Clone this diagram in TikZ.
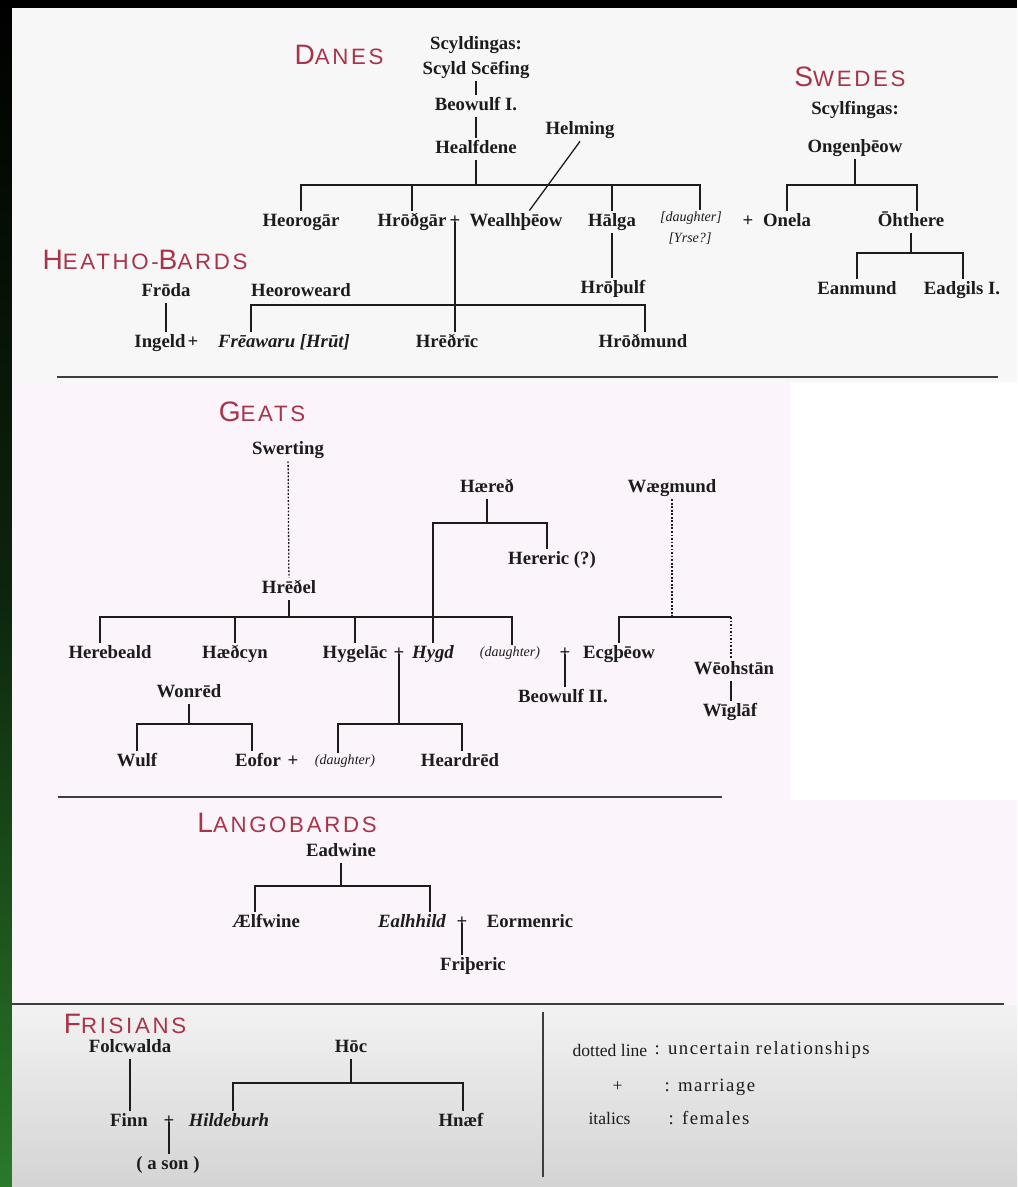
\documentclass[tikz,border=0pt]{standalone}
\usepackage{fontspec}
\usepackage{xcolor}
\usetikzlibrary{backgrounds}
\setmainfont{Liberation Serif}
\newfontfamily\tribefont[LetterSpace=12]{Liberation Sans}
\newfontfamily\keyfont[LetterSpace=8]{Liberation Serif}
\definecolor{tribered}{HTML}{A8344A}
\definecolor{paper}{HTML}{F8F7F8}
\definecolor{blush}{HTML}{FCF4FB}
\definecolor{leaf}{HTML}{2A7A2A}
\definecolor{ink}{HTML}{1C1C1C}
\newcommand{\tribe}[2]{{\fontsize{24}{24}\selectfont #1}{\fontsize{19}{19}\selectfont #2}}

\begin{document}
\begin{tikzpicture}[x=0.03cm, y=-0.03cm,
  every node/.style={text=ink, inner sep=2pt},
  tribe/.style={font=\tribefont, text=tribered},
  person/.style={font=\fontsize{16}{18}\selectfont\bfseries, text height=11pt, text depth=4pt},
  fem/.style={person, font=\fontsize{16}{18}\selectfont\bfseries\itshape},
  aside/.style={font=\fontsize{12}{14}\selectfont\itshape, text height=8pt, text depth=3pt},
  keytext/.style={font=\fontsize{15}{17}\selectfont, anchor=west},
  keyval/.style={font=\keyfont\fontsize{16}{18}\selectfont, anchor=west},
  kin/.style={draw=ink, line width=1.1pt},
  guess/.style={kin, dash pattern=on 1.6pt off 1.4pt},
  hrule/.style={draw=ink!85, line width=1.6pt}]
\useasboundingbox (0,0) rectangle (1017,1187);
\begin{scope}[on background layer]
  \fill[black] (0,0) rectangle (1017,8);
  \shade[top color=black, bottom color=leaf, middle color=black!70!leaf] (0,0) rectangle (12,1187);
  \fill[paper] (12,8) rectangle (1017,1187);
  \fill[blush] (12,382) rectangle (1017,1002);
  \fill[white] (790,382) rectangle (1017,800);
  \shade[top color=black!5, bottom color=black!17] (12,1005) rectangle (1017,1187);
\end{scope}

\node[tribe] (danes) at (339,55) {\tribe{D}{ANES}};
\node[person] (scyldingas) at (476,45) {Scyldingas:};
\node[person] (scyld) at (476,70) {Scyld Scēfing};
\node[person] (beowA) at (476,106) {Beowulf I.};
\node[person] (healfdene) at (476,149) {Healfdene};
\node[person] (helming) at (580,130) {Helming};
\node[person] (heorogar) at (301,222) {Heorogār};
\node[person] (hrothgar) at (412,222) {Hrōðgār};
\node[person] (daneplus) at (455,222) {+};
\node[person] (wealh) at (516,222) {Wealhþēow};
\node[person] (halga) at (612,222) {Hālga};
\node[aside] (danedaughter) at (691,219) {[daughter]};
\node[aside] (yrse) at (690,240) {[Yrse?]};
\node[person] (oneplus) at (748,222) {+};
\node[person] (onela) at (787,222) {Onela};

\node[tribe] (swedes) at (850,77) {\tribe{S}{WEDES}};
\node[person] (scylfingas) at (855,110) {Scylfingas:};
\node[person] (ongen) at (855,148) {Ongenþēow};
\node[person] (ohthere) at (911,222) {Ōhthere};
\node[person] (eanmund) at (857,290) {Eanmund};
\node[person] (eadgils) at (962,290) {Eadgils I.};

\node[tribe] (heatho) at (145,260) {\tribe{H}{EATHO-}\tribe{B}{ARDS}};
\node[person] (froda) at (166,292) {Frōda};
\node[person] (heoroweard) at (301,292) {Heoroweard};
\node[person] (ingeld) at (160,343) {Ingeld};
\node[person] (ingplus) at (193,343) {+};
\node[fem] (freawaru) at (284,343) {Frēawaru [Hrūt]};
\node[person] (hrethric) at (447,343) {Hrēðrīc};
\node[person, fill=paper] (hrothulf) at (613,289) {Hrōþulf};
\node[person] (hrothmund) at (643,343) {Hrōðmund};

\node[tribe] (geats) at (262,412) {\tribe{G}{EATS}};
\node[person] (swerting) at (288,450) {Swerting};
\node[person] (hrethel) at (289,589) {Hrēðel};
\node[person] (haereth) at (487,488) {Hæreð};
\node[person] (hereric) at (552,560) {Hereric (?)};
\node[person] (waegmund) at (672,488) {Wægmund};
\node[person] (herebeald) at (110,654) {Herebeald};
\node[person] (haethcyn) at (235,654) {Hæðcyn};
\node[person] (hygelac) at (355,654) {Hygelāc};
\node[person] (hygplus) at (399,654) {+};
\node[fem] (hygd) at (433,654) {Hygd};
\node[aside] (geatdaughter) at (510,654) {(daughter)};
\node[person] (ecgplus) at (565,654) {+};
\node[person] (ecgtheow) at (619,654) {Ecgþēow};
\node[person] (beowB) at (563,698) {Beowulf II.};
\node[person] (weohstan) at (734,670) {Wēohstān};
\node[person] (wiglaf) at (730,712) {Wīglāf};
\node[person] (wonred) at (189,693) {Wonrēd};
\node[person] (wulf) at (137,762) {Wulf};
\node[person] (eofor) at (258,762) {Eofor};
\node[person] (eofplus) at (293,762) {+};
\node[aside] (eofdaughter) at (345,762) {(daughter)};
\node[person] (heardred) at (460,762) {Heardrēd};

\node[tribe] (lango) at (287,823) {\tribe{L}{ANGOBARDS}};
\node[person] (eadwine) at (341,852) {Eadwine};
\node[person] (aelfwine) at (266,923) {Ælfwine};
\node[fem] (ealhhild) at (412,923) {Ealhhild};
\node[person] (ealhplus) at (462,923) {+};
\node[person] (eormenric) at (530,923) {Eormenric};
\node[person] (fritheric) at (473,966) {Friþeric};

\node[tribe] (frisians) at (125,1024) {\tribe{F}{RISIANS}};
\node[person] (folcwalda) at (130,1048) {Folcwalda};
\node[person] (hoc) at (351,1048) {Hōc};
\node[person] (finn) at (129,1122) {Finn};
\node[person] (finnplus) at (169,1122) {+};
\node[fem] (hildeburh) at (229,1122) {Hildeburh};
\node[person] (hnaef) at (461,1122) {Hnæf};
\node[person] (ason) at (168,1165) {( a son )};

\node[keytext] (dottedkey) at (570,1050) {dotted line};
\node[keyval] (dottedval) at (652,1050) {: uncertain relationships};
\node[keytext] (marrkey) at (610,1087) {+};
\node[keyval] (marrval) at (662,1087) {: marriage};
\node[keytext] (femkey) at (586,1118) {italics};
\node[keyval] (femval) at (666,1118) {: females};

\begin{scope}[on background layer]
  \coordinate (danebar) at (700,185);
  \draw[kin] (scyld) -- (beowA);
  \draw[kin] (beowA) -- (healfdene);
  \draw[kin] (healfdene) -- (healfdene |- danebar);
  \draw[kin] (heorogar) |- (danebar) -- (danebar |- danedaughter.north);
  \foreach \n in {hrothgar,halga} \draw[kin] (\n) -- (\n |- danebar);
  \draw[kin] (halga) -- (halga |- hrothulf.north);
  \draw[kin] (helming.south) -- ([xshift=0.4cm]wealh.north);
  \draw[kin] (daneplus.center) -- (daneplus |- hrethric.north);
  \coordinate (freabar) at (251,305);
  \coordinate (mundbar) at (645,305);
  \draw[kin] (freabar |- freawaru.north) -- (freabar) -- (mundbar) -- (mundbar |- hrothmund.north);
  \draw[kin] (froda) -- (froda |- ingeld.north);

  \coordinate (swedebar) at (917,185);
  \draw[kin] (ongen) -- (ongen |- swedebar);
  \draw[kin] (onela) |- (swedebar) -- (swedebar |- ohthere.north);
  \coordinate (ohtbar) at (963,253);
  \draw[kin] (ohthere) -- (ohthere |- ohtbar);
  \draw[kin] (eanmund) |- (ohtbar) -- (ohtbar |- eadgils.north);

  \draw[guess] (swerting) -- (hrethel);
  \coordinate (hrethelL) at (100,617);
  \coordinate (hrethelbar) at (512,617);
  \draw[kin] (hrethel) -- (hrethel |- hrethelbar);
  \draw[kin] (hrethelL |- herebeald.north) -- (hrethelL) -- (hrethelbar) -- (hrethelbar |- geatdaughter.north);
  \foreach \n in {haethcyn,hygelac} \draw[kin] (\n) -- (\n |- hrethelbar);
  \coordinate (haerethbar) at (547,523);
  \draw[kin] (haereth) -- (haereth |- haerethbar);
  \draw[kin] (hygd) |- (haerethbar) -- (haerethbar |- hereric.north);
  \draw[kin] (ecgplus.center) -- (ecgplus |- beowB.north);
  \coordinate (waegbar) at (731,617);
  \draw[guess] (waegmund) -- (waegmund |- waegbar);
  \draw[kin] (ecgtheow) |- (waegbar);
  \draw[guess] (waegbar) -- (waegbar |- weohstan.north);
  \draw[kin] (waegbar |- weohstan.south) -- (waegbar |- wiglaf.north);
  \coordinate (wonbar) at (252,724);
  \draw[kin] (wonred) -- (wonred |- wonbar);
  \draw[kin] (wulf) |- (wonbar) -- (wonbar |- eofor.north);
  \coordinate (hygbarL) at (338,724);
  \coordinate (hygbar) at (462,724);
  \draw[kin] (hygplus.center) -- (hygplus |- hygbar);
  \draw[kin] (hygbarL |- eofdaughter.north) -- (hygbarL) -- (hygbar) -- (hygbar |- heardred.north);

  \coordinate (eadbarL) at (255,886);
  \coordinate (eadbar) at (430,886);
  \draw[kin] (eadwine) -- (eadwine |- eadbar);
  \draw[kin] (eadbarL |- aelfwine.north) -- (eadbarL) -- (eadbar) -- (eadbar |- ealhhild.north);
  \draw[kin] (ealhplus.center) -- (ealhplus |- fritheric.north);

  \draw[kin] (folcwalda) -- (folcwalda |- finn.north);
  \draw[kin] (finnplus.center) -- (finnplus |- ason.north);
  \coordinate (hocbarL) at (233,1083);
  \coordinate (hocbar) at (463,1083);
  \draw[kin] (hoc) -- (hoc |- hocbar);
  \draw[kin] (hocbarL |- hildeburh.north) -- (hocbarL) -- (hocbar) -- (hocbar |- hnaef.north);

  \draw[hrule] (57,377) -- (998,377);
  \draw[hrule, line width=1pt] (58,797) -- (722,797);
  \draw[hrule] (12,1004) -- (1004,1004);
  \draw[hrule, line width=1.2pt] (543,1012) -- (543,1177);
\end{scope}
\end{tikzpicture}
\end{document}
